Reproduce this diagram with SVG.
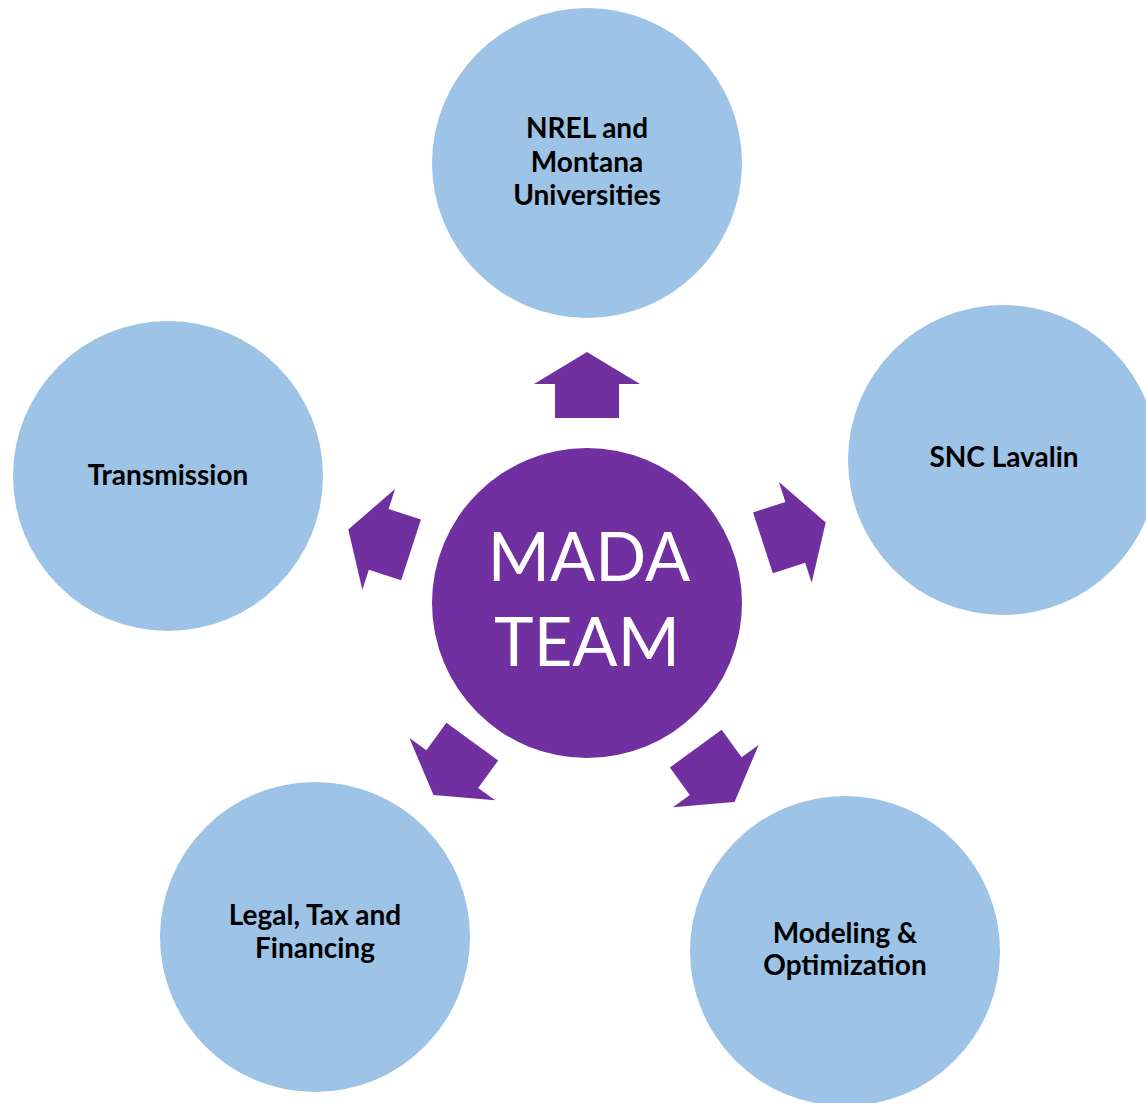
<svg xmlns="http://www.w3.org/2000/svg" width="1146" height="1103" viewBox="0 0 1146 1103">
<style>
.out{fill:#9DC3E6}
.lbl{font-family:Lato,"Open Sans","Liberation Sans",sans-serif;font-weight:bold;font-size:28px;fill:#000;text-anchor:middle}
.big{font-family:Lato,"Open Sans","Liberation Sans",sans-serif;font-size:67px;fill:#fff;text-anchor:middle}
.arr{fill:#7030A0}
</style>
<defs>
<path id="arrow" class="arr" d="M587,352 L640,384 L619,384 L619,418 L555,418 L555,384 L534,384 Z"/>
</defs>
<rect width="1146" height="1103" fill="#fff"/>
<g id="connectors">
<use href="#arrow"/>
<use href="#arrow" transform="translate(0,-3) rotate(72 587 603)"/>
<use href="#arrow" transform="translate(0,-4) rotate(144 587 603)"/>
<use href="#arrow" transform="translate(-6,-11) rotate(216 587 603)"/>
<use href="#arrow" transform="translate(0,4) rotate(288 587 603)"/>
</g>
<g id="center">
<circle cx="587" cy="603" r="155" fill="#7030A0"/>
<text class="big" x="589" y="581">MADA</text>
<text class="big" x="587" y="666">TEAM</text>
</g>
<g id="nrel">
<circle class="out" cx="587" cy="163" r="155"/>
<text class="lbl" x="587" y="138">NREL and</text>
<text class="lbl" x="587" y="172">Montana</text>
<text class="lbl" x="587" y="205">Universities</text>
</g>
<g id="snc">
<circle class="out" cx="1003" cy="460" r="155"/>
<text class="lbl" x="1004" y="467">SNC Lavalin</text>
</g>
<g id="transmission">
<circle class="out" cx="168" cy="476" r="155"/>
<text class="lbl" x="168" y="485">Transmission</text>
</g>
<g id="legal">
<circle class="out" cx="315" cy="937" r="155"/>
<text class="lbl" x="315" y="925">Legal, Tax and</text>
<text class="lbl" x="315" y="958">Financing</text>
</g>
<g id="modeling">
<circle class="out" cx="845" cy="951" r="155"/>
<text class="lbl" x="845" y="943">Modeling &amp;</text>
<text class="lbl" x="845" y="975">Optimization</text>
</g>
</svg>
